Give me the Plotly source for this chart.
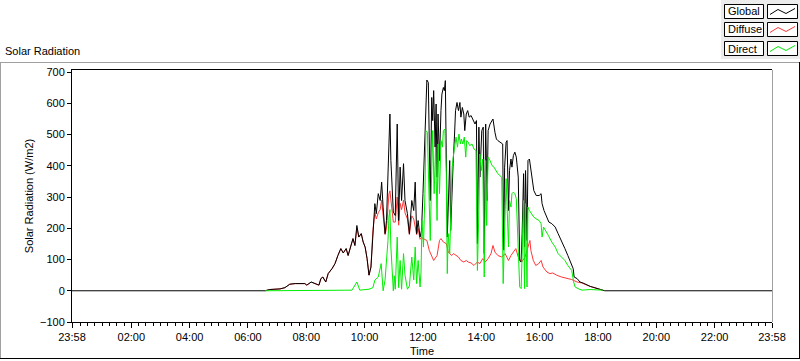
import plotly.graph_objects as go

# ---------------- data (minutes after midnight, W/m2) ----------------
global_min = [-2, 395, 405, 426, 436, 446, 457, 477, 481, 490, 498, 506, 510, 514, 520, 525, 533, 539, 545, 551,
              556, 562, 566, 574, 576, 580, 584, 588, 593, 597, 601, 605, 609, 613, 617, 621, 624, 628, 632, 635,
              638, 642, 645, 648, 650, 652, 654, 659, 663, 667, 670, 673, 676, 680, 683, 688, 692, 697, 701, 704,
              707, 710, 714, 717, 720, 723, 726, 728, 731, 733, 735, 738, 740, 742, 745, 747, 749, 751, 754, 757,
              759, 762, 764, 766, 768, 770, 772, 775, 777, 779, 782, 785, 787, 790, 793, 796, 798, 801, 804, 806,
              809, 812, 815, 819, 823, 827, 830, 832, 835, 837, 841, 844, 846, 849, 852, 854, 858, 861, 864, 868,
              871, 874, 880, 884, 886, 888, 891, 893, 896, 898, 901, 903, 906, 909, 912, 916, 919, 922, 924, 927,
              929, 931, 934, 936, 939, 942, 945, 948, 953, 959, 963, 965, 969, 974, 979, 985, 992, 998, 1005, 1012,
              1018, 1024, 1029, 1031, 1037, 1043, 1049, 1064, 1078, 1090, 1094, 1438]
global_wm2 = [0, 0, 4, 6, 10, 21, 23, 23, 18, 28, 23, 18, 39, 44, 28, 55, 71, 87, 113, 135,
              121, 135, 113, 161, 167, 145, 209, 172, 183, 156, 140, 103, 50, 76, 193, 279, 247, 311, 289, 348,
              268, 183, 225, 407, 524, 566, 417, 252, 241, 534, 225, 396, 289, 407, 289, 247, 183, 289, 257, 348,
              183, 225, 172, 193, 311, 470, 630, 675, 667, 524, 289, 619, 545, 641, 460, 598, 364, 566, 417, 577,
              630, 651, 641, 673, 460, 172, 268, 417, 193, 311, 407, 502, 577, 603, 577, 603, 556, 587, 566, 513,
              566, 577, 556, 561, 545, 534, 545, 151, 524, 364, 513, 524, 119, 534, 289, 513, 534, 545, 550, 508,
              486, 481, 476, 470, 130, 396, 476, 481, 257, 385, 422, 396, 433, 444, 428, 364, 97, 92, 183, 375,
              140, 385, 161, 417, 422, 385, 343, 321, 305, 305, 311, 279, 257, 236, 220, 215, 204, 183, 161, 135,
              113, 92, 71, 44, 39, 28, 25, 14, 7, 2, 0, 0]

diffuse_min = [395, 405, 426, 436, 446, 457, 477, 481, 490, 498, 506, 510, 514, 520, 525, 533, 539, 545, 551, 556,
               562, 566, 574, 576, 580, 584, 588, 593, 597, 601, 605, 609, 613, 617, 621, 624, 628, 632, 635, 638,
               642, 645, 648, 650, 652, 654, 659, 663, 667, 670, 673, 676, 680, 683, 688, 692, 697, 701, 704, 707,
               710, 714, 717, 720, 728, 733, 738, 742, 749, 754, 757, 762, 768, 772, 775, 779, 783, 788, 793, 798,
               804, 809, 813, 819, 825, 832, 837, 843, 848, 854, 860, 864, 868, 874, 882, 889, 896, 901, 906, 911,
               916, 920, 923, 930, 936, 940, 942, 947, 952, 958, 963, 967, 975, 981, 987, 995, 1005, 1016, 1026, 1037,
               1047, 1064, 1078, 1090]
diffuse_wm2 = [0, 4, 6, 10, 21, 23, 23, 18, 28, 23, 18, 39, 44, 28, 55, 71, 87, 113, 135, 121,
               135, 113, 161, 167, 145, 200, 172, 183, 156, 140, 103, 50, 76, 193, 250, 230, 250, 260, 290, 240,
               180, 200, 280, 310, 320, 290, 220, 220, 300, 210, 280, 260, 290, 250, 230, 180, 240, 230, 210, 180,
               200, 165, 170, 167, 161, 129, 108, 97, 113, 161, 167, 156, 151, 124, 119, 113, 119, 113, 108, 97,
               92, 97, 92, 89, 81, 92, 87, 103, 92, 103, 119, 145, 124, 113, 108, 119, 97, 113, 124, 135,
               108, 97, 92, 108, 140, 161, 129, 97, 81, 87, 97, 76, 60, 55, 57, 50, 44, 39, 36, 28,
               25, 14, 7, 2]

direct_min = [395, 549, 574, 584, 590, 609, 617, 621, 628, 634, 636, 638, 642, 645, 648, 650, 652, 654, 659, 661,
              663, 667, 670, 673, 676, 680, 683, 688, 692, 697, 701, 704, 707, 710, 714, 716, 718, 721, 724, 726,
              729, 732, 735, 738, 740, 743, 746, 749, 751, 754, 757, 760, 762, 765, 768, 770, 772, 775, 777, 780,
              783, 786, 788, 791, 794, 797, 799, 802, 805, 808, 810, 813, 816, 821, 825, 829, 832, 835, 837, 840,
              843, 846, 849, 851, 854, 858, 862, 866, 870, 874, 878, 882, 885, 889, 891, 896, 898, 901, 903, 906,
              909, 912, 916, 919, 922, 924, 927, 929, 931, 934, 936, 939, 943, 948, 952, 959, 963, 965, 968, 973,
              978, 985, 992, 998, 1005, 1012, 1018, 1026, 1030, 1033, 1039, 1047, 1064, 1090]
direct_wm2 = [0, 0, 2, 28, 2, 5, 10, 34, 44, 87, 55, 0, 34, 97, 161, 236, 260, 140, 0, 48,
              5, 172, 10, 97, 5, 119, 50, 5, 15, 108, 35, 140, 23, 97, 12, 60, 225, 140, 311, 513,
              508, 332, 161, 385, 513, 311, 460, 225, 470, 311, 481, 460, 513, 518, 385, 55, 183, 119, 209, 396,
              438, 470, 492, 460, 502, 470, 486, 470, 492, 428, 481, 476, 465, 470, 454, 449, 65, 257, 438, 385,
              422, 44, 417, 209, 428, 417, 401, 396, 385, 375, 369, 364, 23, 289, 359, 140, 289, 268, 311, 316,
              311, 295, 140, 12, 7, 97, 289, 7, 279, 12, 268, 257, 247, 236, 231, 225, 215, 172, 204, 188,
              177, 156, 140, 119, 108, 97, 81, 65, 28, 12, 7, 2, 4, 2]

series_names = ["Global", "Diffuse", "Direct"]
series_colors = ["#000000", "#ff3636", "#00ee00"]
draw_order = ["Diffuse", "Global", "Direct"]

x_tick_minutes = [-2, 120, 240, 360, 480, 600, 720, 840, 960, 1080, 1200, 1320, 1438]
x_tick_labels = ["23:58", "02:00", "04:00", "06:00", "08:00", "10:00", "12:00",
                 "14:00", "16:00", "18:00", "20:00", "22:00", "23:58"]
x_minor_minutes = [m for m in range(15, 1440, 15) if m % 120 != 0]
y_ticks = [-100, 0, 100, 200, 300, 400, 500, 600, 700]

# ---------------- figure ----------------
W, H = 800, 361
L, R, T, B = 72, 772, 70, 322
FONT = "Liberation Sans"


def px(x):
    return (x - L) / (R - L)


def py(y):
    return (B - y) / (B - T)


series = {
    "Global": (global_min, global_wm2),
    "Diffuse": (diffuse_min, diffuse_wm2),
    "Direct": (direct_min, direct_wm2),
}
color_of = dict(zip(series_names, series_colors))

fig = go.Figure()
for name in draw_order:
    t, v = series[name]
    fig.add_trace(go.Scatter(x=t, y=v, mode="lines", name=name,
                             line=dict(color=color_of[name], width=1), showlegend=False,
                             hoverinfo="skip"))

shapes = []


def line(x0, y0, x1, y1, color, w=1):
    shapes.append(dict(type="line", xref="paper", yref="paper",
                       x0=px(x0), y0=py(y0), x1=px(x1), y1=py(y1),
                       line=dict(color=color, width=w)))


def rect(x0, y0, x1, y1, fill, lc=None):
    shapes.append(dict(type="rect", xref="paper", yref="paper",
                       x0=px(x0), y0=py(y0), x1=px(x1), y1=py(y1),
                       fillcolor=fill,
                       line=dict(color=lc if lc else fill, width=1 if lc else 0),
                       layer="above"))


# outer frame
line(0, 62.5, 800, 62.5, "#a0a0a0")
line(0.5, 62, 0.5, 359, "#a0a0a0")
line(0, 358.5, 800, 358.5, "#000000")
line(799.5, 62, 799.5, 359, "#000000")
# plot area right border
line(772.5, 70, 772.5, 322, "#a0a0a0")

# legend panel
rect(721, 0, 800, 59, "#ececec")
annotations = []
rows = [(4.5, 18.5), (22.5, 36.5), (41.5, 55.5)]
for (y0, y1), name, c in zip(rows, series_names, series_colors):
    rect(724.5, y0, 763.5, y1, "#ffffff", "#000000")
    rect(767.5, y0, 797.5, y1, "#ffffff", "#000000")
    ym = (y0 + y1) / 2
    pts = [(770, ym + 3), (778, ym - 2), (786, ym + 2), (795, ym - 3)]
    path = "M " + " L ".join(f"{px(a):.5f},{py(b):.5f}" for a, b in pts)
    shapes.append(dict(type="path", xref="paper", yref="paper", path=path,
                       line=dict(color=c, width=1), layer="above"))
    annotations.append(dict(text=name, xref="paper", yref="paper",
                            x=px(726), y=py(ym), xanchor="left", yanchor="middle",
                            showarrow=False, font=dict(family=FONT, size=11, color="#000000")))

annotations.append(dict(text="Solar Radiation", xref="paper", yref="paper",
                        x=px(3), y=py(51), xanchor="left", yanchor="middle",
                        showarrow=False, font=dict(family=FONT, size=11, color="#000000")))

fig.update_layout(
    width=W, height=H,
    margin=dict(l=L, r=W - R, t=T, b=H - B, pad=0),
    paper_bgcolor="#ffffff", plot_bgcolor="#ffffff",
    font=dict(family=FONT, size=11, color="#000000"),
    shapes=shapes, annotations=annotations,
    xaxis=dict(range=[-2, 1438], tickmode="array", tickvals=x_tick_minutes, ticktext=x_tick_labels,
               ticks="outside", ticklen=5, tickwidth=1, tickcolor="#000000",
               showline=True, linecolor="#000000", linewidth=1, mirror=True,
               showgrid=False, zeroline=False,
               minor=dict(tickmode="array", tickvals=x_minor_minutes, ticks="outside",
                          ticklen=3, tickwidth=1, tickcolor="#000000", showgrid=False),
               title=dict(text="Time", standoff=5, font=dict(family=FONT, size=11)),
               automargin=False),
    yaxis=dict(range=[-100, 707], tickmode="array", tickvals=y_ticks,
               ticks="outside", ticklen=4, tickwidth=1, tickcolor="#000000",
               showline=True, linecolor="#000000", linewidth=1,
               showgrid=False, zeroline=False,
               title=dict(text="Solar Radiation (W/m2)", standoff=4, font=dict(family=FONT, size=11)),
               automargin=False),
)

fig.write_html("out.html", config={"displayModeBar": False},
               post_script="document.body.style.margin='0';document.body.style.overflow='hidden';")
